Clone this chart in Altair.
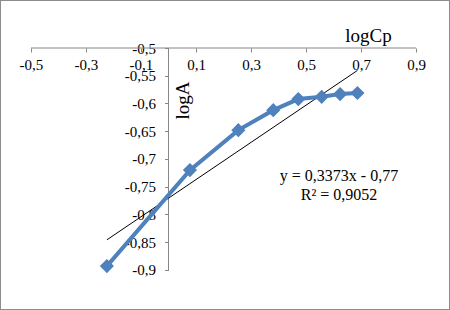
import altair as alt
import pandas as pd

# ---- data ----
log_cp = [-0.224, 0.078, 0.254, 0.381, 0.472, 0.557, 0.624, 0.687]
log_a = [-0.893, -0.720, -0.648, -0.612, -0.592, -0.588, -0.583, -0.581]
x_ticks = [-0.5, -0.3, -0.1, 0.1, 0.3, 0.5, 0.7, 0.9]
y_ticks = [-0.9, -0.85, -0.8, -0.75, -0.7, -0.65, -0.6, -0.55, -0.5]
x_title = "logCp"
y_title = "logA"
eq_text = ["y = 0,3373x - 0,77"]
r2_text = ["R² = 0,9052"]

df = pd.DataFrame({"logCp": log_cp, "logA": log_a})
axis_lines = pd.DataFrame({
    "x": [x_ticks[0], 0.0],
    "x2": [x_ticks[-1], 0.0],
    "y": [y_ticks[-1], y_ticks[0]],
    "y2": [y_ticks[-1], y_ticks[-1]],
})

FONT = "Liberation Serif"
GRAY = "#868686"
BLUE = "#4F81BD"
W, H = 450, 310

x_scale = alt.Scale(domain=[-0.6127, 1.0236], nice=False, zero=False)
y_scale = alt.Scale(domain=[-0.9721, -0.4135], nice=False, zero=False)

label_expr = "replace(toString(datum.value), '.', ',')"

x_axis = alt.Axis(
    orient="bottom", offset=-(H - 48), values=x_ticks, domain=False, grid=False,
    tickSize=4, tickColor=GRAY, labelExpr=label_expr, labelFont=FONT,
    labelFontSize=15, labelColor="black", labelPadding=5,
    title=x_title, titleFont=FONT, titleFontSize=19, titleFontWeight="normal",
    titleColor="black", titleX=368, titleY=-13, titleBaseline="middle",
    titleAnchor="start", titleAlign="center",
)
y_axis = alt.Axis(
    orient="left", offset=-168.5, values=y_ticks, domain=False, grid=False,
    tickSize=4, tickColor=GRAY, labelExpr=label_expr, labelFont=FONT,
    labelFontSize=15, labelColor="black", labelPadding=9,
    title=y_title, titleFont=FONT, titleFontSize=19, titleFontWeight="normal",
    titleColor="black", titleX=14, titleY=100, titleAngle=-90,
    titleBaseline="middle", titleAlign="center", titleAnchor="start",
)


def X(f):
    return alt.X(f, type="quantitative", scale=x_scale, axis=x_axis)


def Y(f):
    return alt.Y(f, type="quantitative", scale=y_scale, axis=y_axis)


rules = alt.Chart(axis_lines).mark_rule(color=GRAY, strokeWidth=1).encode(
    x=X("x"), x2="x2", y=Y("y"), y2="y2"
)

base = alt.Chart(df).encode(x=X("logCp"), y=Y("logA"))
line = base.mark_line(color=BLUE, strokeWidth=4)
pts = base.mark_point(shape="diamond", filled=True, size=200, color=BLUE, opacity=1)
trend = base.transform_regression("logCp", "logA").mark_line(color="black", strokeWidth=1).encode(
    x=X("logCp"), y=Y("logA")
)

eq = alt.Chart(pd.DataFrame({"t": eq_text})).mark_text(
    font=FONT, fontSize=16, color="black", align="center", baseline="middle"
).encode(text="t:N", x=alt.value(339), y=alt.value(176))
r2 = alt.Chart(pd.DataFrame({"t": r2_text})).mark_text(
    font=FONT, fontSize=16, color="black", align="center", baseline="middle"
).encode(text="t:N", x=alt.value(339), y=alt.value(195))

chart = alt.layer(rules, trend, line, pts, eq, r2).properties(
    width=W, height=H, autosize=alt.AutoSizeParams(type="none"), padding=0,
    background="white",
).configure_view(stroke="#8c8c8c", strokeWidth=2).configure_axis(
    labelFont=FONT, titleFont=FONT
)

chart.save("out.html", embed_options={"renderer": "svg", "actions": False})
